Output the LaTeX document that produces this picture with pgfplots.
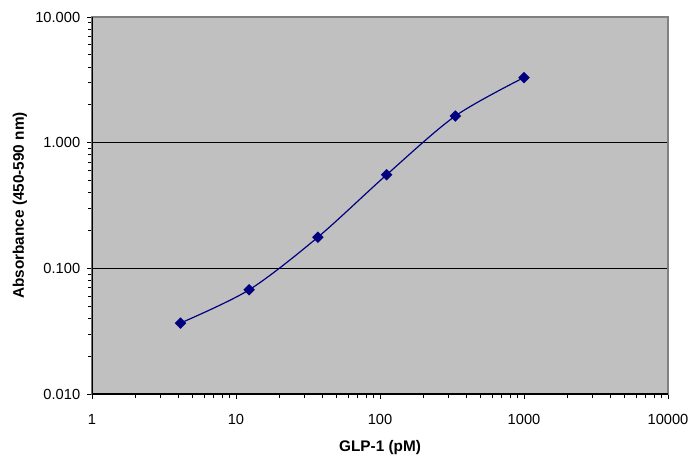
\documentclass[border=0pt]{standalone}
\usepackage{fontspec}
\setmainfont{Liberation Sans}
\usepackage{pgfplots}
\pgfplotsset{compat=1.18}
\usetikzlibrary{calc}
\definecolor{plotbg}{RGB}{192,192,192}
\definecolor{navyline}{RGB}{0,0,128}
\definecolor{framegray}{RGB}{128,128,128}

\begin{document}
\fontsize{11}{13}\selectfont
\begin{tikzpicture}[x=0.75pt,y=0.75pt]
\begin{axis}[
    name=main,
    scale only axis,
    width=432pt,
    height=282.75pt,
    xmode=log, ymode=log,
    xmin=1, xmax=10000,
    ymin=0.01, ymax=10,
    xtick={1,10,100,1000,10000},
    xticklabels={1,10,100,1000,10000},
    ytick={0.01,0.1,1,10},
    yticklabels={0.010,0.100,1.000,10.000},
    minor tick num=0,
    minor xtick={}, minor ytick={},
    tick align=outside,
    xtick pos=bottom, ytick pos=left,
    major tick length=3.5pt,
    every tick/.style={black, line width=0.6pt},
    axis line style={draw=framegray, line width=0.9pt},
    axis background/.style={fill=plotbg},
    ymajorgrids,
    major grid style={black, line width=0.6pt},
    /pgf/number format/assume math mode=true,
    tick label style={font=\fontsize{11}{13}\selectfont},
    xticklabel style={yshift=-8pt},
    yticklabel style={xshift=-1.5pt},
    xlabel={\bfseries GLP-1 (pM)},
    ylabel={\bfseries Absorbance (450-590 nm)},
    xlabel style={at={(axis description cs:0.5,-0.141)}, anchor=center},
    ylabel style={at={(axis description cs:-0.125,0.5)}, anchor=center, rotate=0},
    label style={font=\bfseries\fontsize{11.5}{13}\selectfont},
]
\addplot[navyline, line width=0.9pt, smooth, tension=0.5,
    mark=square*, mark size=2.6pt, mark options={rotate=45, fill=navyline, draw=navyline}]
    coordinates {
    (4.115,0.0367) (12.35,0.0675) (37.04,0.177) (111.1,0.555) (333.3,1.63) (1000,3.30)
    };
\draw[black, line width=0.9pt] (rel axis cs:0,1) -- (rel axis cs:0,0) -- (rel axis cs:1,0);
\end{axis}
\pgfresetboundingbox
\useasboundingbox ($(main.south west)+(-92,-63)$) rectangle ($(main.north east)+(24,17)$);
\end{tikzpicture}
\end{document}
